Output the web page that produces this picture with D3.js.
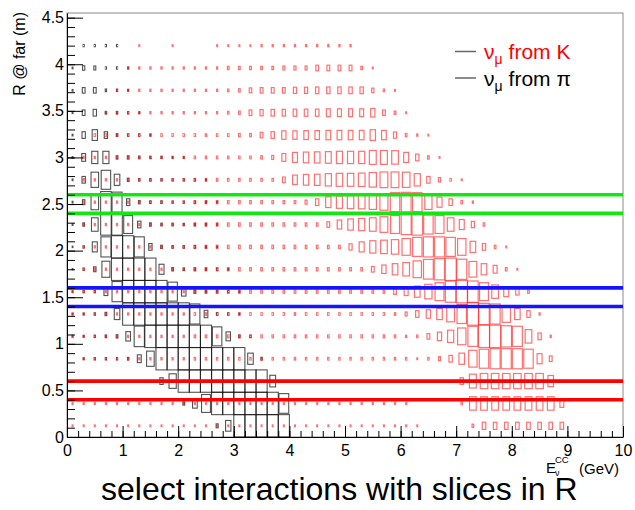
<!DOCTYPE html>
<html><head><meta charset="utf-8">
<script src="https://cdn.jsdelivr.net/npm/d3@7"></script>
<style>body{margin:0;background:#fff;} svg{display:block;font-family:"Liberation Sans",Arial,Helvetica,sans-serif;}</style>
</head><body><svg id="c" width="635" height="510"></svg>
<script>
// ---- data ----
const xTicks = [0,1,2,3,4,5,6,7,8,9,10];
const xTickLabels = ["0","1","2","3","4","5","6","7","8","9","10"];
const yTicks = [0,0.5,1,1.5,2,2.5,3,3.5,4,4.5];
const yTickLabels = ["0","0.5","1","1.5","2","2.5","3","3.5","4","4.5"];
const xBinWidth = 0.2;   // GeV
const yBinWidth = 0.24;  // m
// nu_mu from pi : per R-row (bottom to top), first E-bin index and bin contents
const piStart = [13,10,8,1,0,0,0,0,0,0,0,0,0,0,0,0,0,1];
const piCounts = [
 [32,230,1000,1000,1000,1000,1000],
 [22,176,640,1000,1000,1000,1000,1000,1000,774],
 [90,422,1000,1000,1000,1000,1000,1000,1000,1000,270],
 [6,10,10,10,14,122,462,1000,1000,1000,1000,1000,1000,1000,1000,250,14],
 [4,6,10,14,22,176,846,1000,1000,1000,1000,1000,1000,722,160,14,10],
 [4,6,10,22,250,1000,1000,1000,1000,1000,1000,810,109,14,10,6],
 [4,10,10,122,810,1000,1000,1000,1000,722,160,22,14,14,10,6],
 [4,10,48,518,1000,1000,1000,1000,202,22,14,14,10,10,6],
 [4,10,202,810,1000,1000,810,90,22,14,14,14,10,6],
 [6,22,360,902,902,640,90,22,14,14,10,10,10,6],
 [6,48,462,902,810,90,22,14,14,10,10,10,10,6],
 [6,90,462,722,250,22,14,14,10,10,10,10,6],
 [6,122,302,302,22,22,14,10,10,6,6],
 [6,90,230,90,14,10,10,6],
 [6,62,90,14,14,10,6],
 [6,62,62,14,10,6],
 [6,40,32,10,10,6],
 [10,10,10,10]
];
// nu_mu from K
const kStart = [0,0,8,1,0,0,0,1,1,1,1,1,1,2,3,4,5,6];
const kCounts = [
 [6,6,6,6,6,6,6,6,6,6,6,6,6,6,6,6,6,6,6,6,6,6,6,6,6,6,6,6,6,6,6,6,0,0,0,0,22,102,102,102,102,102,102,102,102],
 [8,8,8,8,8,8,8,8,8,8,8,8,8,8,8,8,8,8,8,8,8,8,8,8,8,8,8,8,8,8,8,0,0,0,0,14,360,360,360,360,360,360,360,360,122],
 [6,6,6,6,6,6,6,6,6,6,0,0,0,0,0,0,0,0,0,0,0,0,0,0,0,0,0,90,384,462,462,462,462,462,462,250],
 [10,10,10,10,10,10,10,10,10,10,14,14,14,14,14,14,14,14,14,14,14,14,14,14,14,14,14,14,14,14,6,14,32,90,250,562,722,810,810,810,722,202,62],
 [10,10,10,10,10,10,10,10,10,10,10,17,17,17,17,17,17,17,17,17,17,17,17,17,17,17,17,17,17,17,10,14,62,144,302,562,810,1000,1000,902,810,360,90,10],
 [10,10,10,10,10,10,10,10,10,10,10,14,14,14,14,14,14,14,14,14,14,14,14,14,14,14,14,14,14,14,32,90,144,250,490,722,1000,902,810,562,250,90,10],
 [10,10,10,10,10,10,10,10,10,10,10,22,22,22,22,22,22,22,22,22,22,22,22,22,22,22,22,22,22,62,122,250,422,640,902,1000,902,640,360,202,90,22],
 [10,10,10,10,10,10,10,10,10,10,22,22,22,22,22,22,22,22,22,22,22,22,22,22,22,22,62,144,250,360,562,774,902,1000,810,490,250,122,22,6],
 [10,10,10,10,10,10,10,10,10,10,22,22,22,22,22,22,22,22,22,22,22,22,22,22,78,202,302,360,422,562,722,810,810,722,562,250,90,22,6],
 [10,10,10,10,10,10,10,10,10,10,22,22,22,22,22,22,22,22,22,22,22,22,62,160,250,302,360,490,640,810,902,722,640,360,202,78,22],
 [10,10,10,10,10,10,10,10,10,10,20,20,20,20,20,20,20,20,20,20,32,90,230,302,336,360,422,518,722,774,722,422,202,90,22,10],
 [10,10,10,10,10,10,10,10,10,10,17,17,17,17,17,17,17,17,62,176,230,250,302,336,336,360,422,490,490,462,302,90,40,14,6],
 [10,10,10,10,10,10,10,10,10,10,14,14,14,14,14,14,22,32,122,202,230,250,270,302,302,302,384,384,360,202,90,22,6],
 [14,14,14,14,14,14,14,14,14,14,14,14,14,22,22,62,90,144,144,160,160,176,176,176,176,230,176,78,22,10,6],
 [10,10,10,10,10,10,10,10,10,10,10,14,22,62,78,90,90,102,102,102,122,122,122,122,144,62,22,6],
 [10,10,10,10,10,10,10,10,10,10,14,22,48,62,62,62,78,78,90,90,90,90,90,40,14,6],
 [10,10,10,10,10,10,10,10,10,22,22,22,22,22,32,32,32,62,62,62,62,22,6],
 [6,0,0,6,0,0,0,6,6,6,6,10,10,10,10,10,10,10,10,10]
];
const sliceLow  = [0.4, 1.4, 2.4];
const sliceHigh = [0.6, 1.6, 2.6];
const sliceColors = ["#ff0000", "#1414ff", "#14e614"];
const legendLabels = ["from K", "from π"];

// ---- drawing ----
const svg = d3.select("#c");
const x = d3.scaleLinear().domain([0,10]).range([67,623]);
const y = d3.scaleLinear().domain([0,4.55]).range([437,13]);
const size = d3.scaleSqrt().domain([0,1000]).range([0,1]);
const bw = x(xBinWidth) - x(0), bh = y(0) - y(yBinWidth);

function cells(starts, counts){
  const out = [];
  counts.forEach((row, r) => row.forEach((v, j) => { if (v > 0) out.push({c: starts[r] + j, r, v}); }));
  return out;
}
function drawBoxes(data, color, op, sw){
  svg.append("g").selectAll("rect").data(data).join("rect")
    .attr("x", d => x((d.c + 0.5) * xBinWidth) - size(d.v) * bw / 2)
    .attr("y", d => y((d.r + 0.5) * yBinWidth) - size(d.v) * bh / 2)
    .attr("width", d => size(d.v) * bw)
    .attr("height", d => size(d.v) * bh)
    .attr("fill", "none").attr("stroke", color)
    .attr("stroke-opacity", op).attr("stroke-width", sw);
}

// frame
svg.append("rect").attr("x", x(0)).attr("y", y(4.55)).attr("width", x(10) - x(0)).attr("height", y(0) - y(4.55))
  .attr("fill", "none").attr("stroke", "#8a8a8a").attr("stroke-width", 1);

drawBoxes(cells(piStart, piCounts), "#111", 0.72, 1.1);
drawBoxes(cells(kStart, kCounts), "#ff1a1a", 0.62, 1.2);

// slice lines
const lines = [];
sliceLow.forEach((v, i) => { lines.push({v, col: sliceColors[i]}); lines.push({v: sliceHigh[i], col: sliceColors[i]}); });
svg.append("g").selectAll("line").data(lines).join("line")
  .attr("x1", x(0)).attr("x2", x(10)).attr("y1", d => y(d.v)).attr("y2", d => y(d.v))
  .attr("stroke", d => d.col).attr("stroke-width", 3.6);

// axes
const font = '"Liberation Sans",Arial,Helvetica,sans-serif';
const yMinor = svg.append("g").attr("transform", `translate(${x(0)},0)`)
  .call(d3.axisLeft(y).tickValues(d3.range(0, 4.51, 0.1)).tickSize(-8).tickSizeOuter(0).tickFormat(""));
yMinor.select(".domain").remove();
const yMajor = svg.append("g").attr("transform", `translate(${x(0)},0)`)
  .call(d3.axisLeft(y).tickValues(yTicks).tickSize(-16).tickSizeOuter(0).tickPadding(3).tickFormat((d, i) => yTickLabels[i]));
yMajor.attr("font-size", 16).attr("font-family", font);
yMajor.selectAll("text").attr("fill", "#000");

const xMinor = svg.append("g").attr("transform", `translate(0,${y(0)})`)
  .call(d3.axisBottom(x).tickValues(d3.range(0, 10.01, 0.2)).tickSize(-6).tickSizeOuter(0).tickFormat(""));
xMinor.select(".domain").remove();
const xMajor = svg.append("g").attr("transform", `translate(0,${y(0)})`)
  .call(d3.axisBottom(x).tickValues(xTicks).tickSize(-11).tickSizeOuter(0).tickPadding(8).tickFormat((d, i) => xTickLabels[i]));
xMajor.attr("font-size", 16).attr("font-family", font);
xMajor.selectAll("text").attr("fill", "#000");

// axis titles
svg.append("text").attr("transform", "translate(25,12) rotate(-90)").attr("text-anchor", "end")
  .attr("font-size", 16).text("R @ far (m)");
const xt = svg.append("text").attr("font-size", 15);
xt.append("tspan").attr("x", 546).attr("y", 473).text("E");
xt.append("tspan").attr("x", 555).attr("y", 476).attr("font-size", 9).text("ν");
xt.append("tspan").attr("x", 555).attr("y", 463).attr("font-size", 9.5).text("CC");
xt.append("tspan").attr("x", 579).attr("y", 474).text("(GeV)");

// legend
const legColors = ["#ff0000", "#000"];
legendLabels.forEach((lab, i) => {
  const ly = 51.5 + i * 26.5;
  svg.append("line").attr("x1", 455).attr("x2", 476).attr("y1", ly).attr("y2", ly)
    .attr("stroke", "#666").attr("stroke-width", 1.5);
  const t = svg.append("text").attr("x", 484).attr("y", ly + 7.5).attr("font-size", 21).attr("fill", legColors[i]);
  t.append("tspan").text("ν");
  t.append("tspan").attr("font-size", 14).attr("dy", 5).text("μ");
  t.append("tspan").attr("dy", -5).attr("dx", 6).text(lab);
});

// caption
svg.append("text").attr("x", 101).attr("y", 500).attr("font-size", 32).attr("fill", "#000")
  .text("select interactions with slices in R");
</script></body></html>
